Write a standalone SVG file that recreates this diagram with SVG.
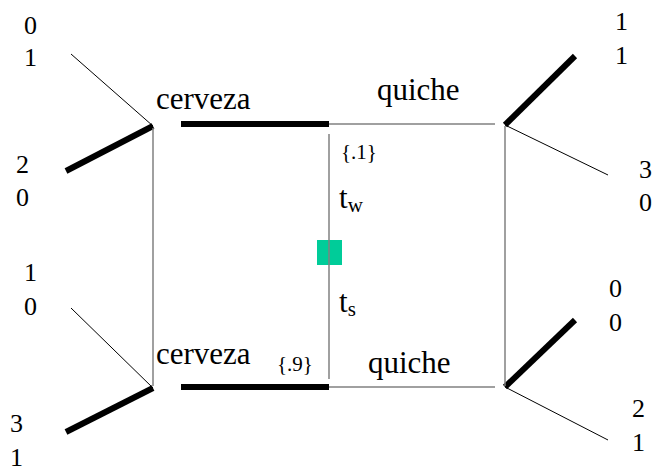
<svg xmlns="http://www.w3.org/2000/svg" width="659" height="476" viewBox="0 0 659 476">
<rect width="659" height="476" fill="#fff"/>
<g id="nature">
<rect x="317" y="240" width="25" height="25" fill="#00CC99"/>
</g>
<g id="connectors" fill="none">
<g id="thin-branches" stroke="#000" stroke-width="1">
<line x1="71" y1="54" x2="153" y2="126"/>
<line x1="71" y1="308" x2="153" y2="388"/>
<line x1="505" y1="125" x2="608" y2="175"/>
<line x1="505" y1="387" x2="608" y2="440"/>
</g>
<g id="thick-branches" stroke="#000" stroke-width="6">
<line x1="66" y1="171" x2="153" y2="126"/>
<line x1="66" y1="432" x2="153" y2="388"/>
<line x1="181" y1="124" x2="329" y2="124"/>
<line x1="181" y1="387" x2="329" y2="387"/>
<line x1="505" y1="125" x2="575" y2="56"/>
<line x1="505" y1="387" x2="575" y2="320"/>
</g>
<g id="gray-branches" stroke="#808080" stroke-width="1.5">
<line x1="153" y1="128" x2="153" y2="386"/>
<line x1="329" y1="124" x2="495" y2="124"/>
<line x1="329" y1="387" x2="495" y2="387"/>
<line x1="329" y1="134" x2="329" y2="379"/>
<line x1="505" y1="126" x2="505" y2="386"/>
</g>
</g>
<g id="labels" fill="#000">
<text style="font-family:'Liberation Serif',serif !important;font-size:26px" x="24" y="34">0</text>
<text style="font-family:'Liberation Serif',serif !important;font-size:26px" x="24" y="66">1</text>
<text style="font-family:'Liberation Serif',serif !important;font-size:26px" x="16" y="173">2</text>
<text style="font-family:'Liberation Serif',serif !important;font-size:26px" x="16" y="206">0</text>
<text style="font-family:'Liberation Serif',serif !important;font-size:26px" x="24" y="281">1</text>
<text style="font-family:'Liberation Serif',serif !important;font-size:26px" x="24" y="315">0</text>
<text style="font-family:'Liberation Serif',serif !important;font-size:26px" x="10" y="432">3</text>
<text style="font-family:'Liberation Serif',serif !important;font-size:26px" x="10" y="466">1</text>
<text style="font-family:'Liberation Serif',serif !important;font-size:26px" x="615" y="30">1</text>
<text style="font-family:'Liberation Serif',serif !important;font-size:26px" x="615" y="64">1</text>
<text style="font-family:'Liberation Serif',serif !important;font-size:26px" x="639" y="178">3</text>
<text style="font-family:'Liberation Serif',serif !important;font-size:26px" x="639" y="211">0</text>
<text style="font-family:'Liberation Serif',serif !important;font-size:26px" x="609" y="297">0</text>
<text style="font-family:'Liberation Serif',serif !important;font-size:26px" x="609" y="331">0</text>
<text style="font-family:'Liberation Serif',serif !important;font-size:26px" x="632" y="417">2</text>
<text style="font-family:'Liberation Serif',serif !important;font-size:26px" x="632" y="451">1</text>
<text style="font-family:'Liberation Serif',serif !important;font-size:31px" x="156" y="109">cerveza</text>
<text style="font-family:'Liberation Serif',serif !important;font-size:31px" x="377" y="100">quiche</text>
<text style="font-family:'Liberation Serif',serif !important;font-size:21px" x="341" y="159">{.1}</text>
<text style="font-family:'Liberation Serif',serif !important;font-size:31px" x="339" y="208">t<tspan style="font-size:21px" dy="4">w</tspan></text>
<text style="font-family:'Liberation Serif',serif !important;font-size:31px" x="339" y="312">t<tspan style="font-size:21px" dy="4">s</tspan></text>
<text style="font-family:'Liberation Serif',serif !important;font-size:21px" x="277" y="371">{.9}</text>
<text style="font-family:'Liberation Serif',serif !important;font-size:31px" x="156" y="364">cerveza</text>
<text style="font-family:'Liberation Serif',serif !important;font-size:31px" x="368" y="373">quiche</text>
</g>
</svg>
